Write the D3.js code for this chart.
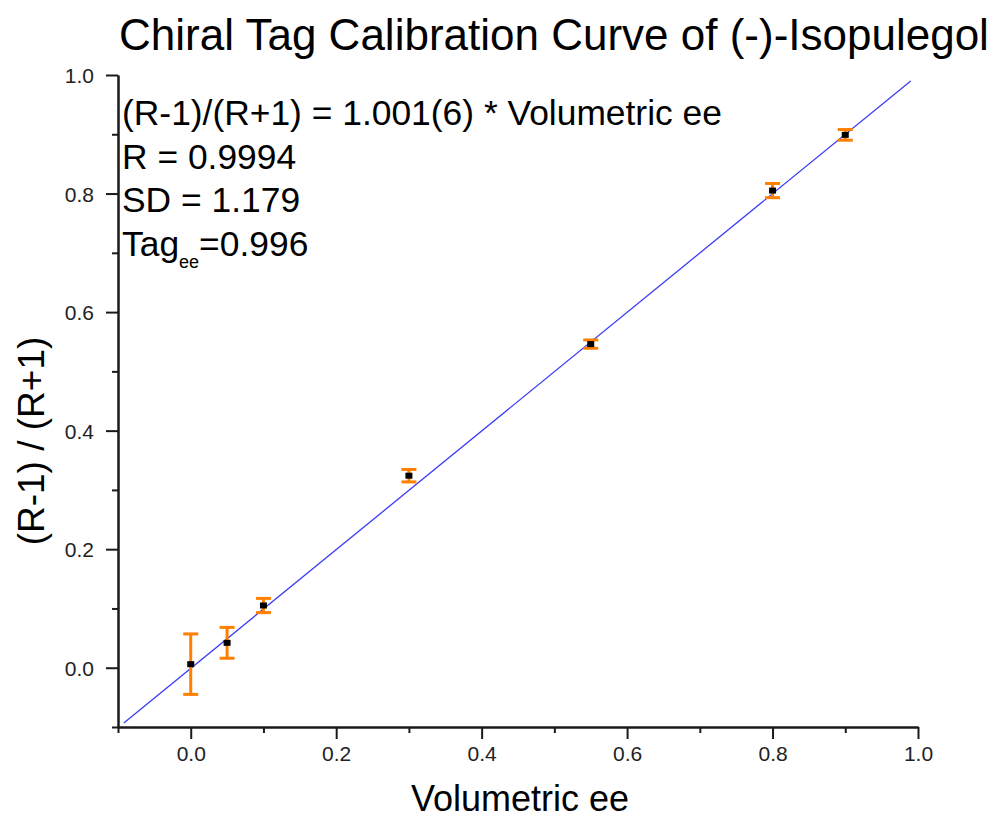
<!DOCTYPE html>
<html>
<head>
<meta charset="utf-8">
<script src="https://cdn.jsdelivr.net/npm/d3@7"></script>
<style>
  html, body { margin: 0; padding: 0; background: #fff; }
  svg { display: block; }
  text { font-family: "Liberation Sans", Arial, sans-serif; }
</style>
</head>
<body>
<svg id="chart" width="995" height="821"></svg>
<script>
// ---- data ----
const volumetricEE = [0.0, 0.05, 0.1, 0.3, 0.55, 0.8, 0.9];
const ratioValues  = [0.006, 0.042, 0.105, 0.324, 0.546, 0.805, 0.899];
const errorValues  = [0.051, 0.026, 0.012, 0.0105, 0.007, 0.012, 0.009];
const fitSlope = 1.001;
const fitIntercept = -0.001;
const fitRange = [-0.092, 0.99];
const xMajorTicks = [0.0, 0.2, 0.4, 0.6, 0.8, 1.0];
const xMinorTicks = [-0.1, 0.1, 0.3, 0.5, 0.7, 0.9];
const yMajorTicks = [0.0, 0.2, 0.4, 0.6, 0.8, 1.0];
const yMinorTicks = [-0.1, 0.1, 0.3, 0.5, 0.7, 0.9];
const titleText = "Chiral Tag Calibration Curve of (-)-Isopulegol";
const xTitle = "Volumetric ee";
const yTitle = "(R-1) / (R+1)";
const annotationLines = ["(R-1)/(R+1) = 1.001(6) * Volumetric ee", "R = 0.9994", "SD = 1.179"];

// ---- layout ----
const svg = d3.select("#chart");
const x = d3.scaleLinear().domain([-0.1, 1.0]).range([118, 918]);
const y = d3.scaleLinear().domain([-0.1, 1.0]).range([727, 75]);
const fmt = d3.format(".1f");
const axisColor = "#1a1a1a";

// minor ticks (no labels)
const xMinor = svg.append("g").attr("transform", `translate(0,${y(-0.1)})`)
  .call(d3.axisBottom(x).tickValues(xMinorTicks).tickSize(6).tickSizeOuter(0).tickFormat(""));
const yMinor = svg.append("g").attr("transform", `translate(${x(-0.1)},0)`)
  .call(d3.axisLeft(y).tickValues(yMinorTicks).tickSize(6).tickSizeOuter(0).tickFormat(""));

const xAxis = svg.append("g").attr("transform", `translate(0,${y(-0.1)})`)
  .call(d3.axisBottom(x).tickValues(xMajorTicks).tickSize(12).tickSizeOuter(0).tickPadding(7).tickFormat(fmt));
const yAxis = svg.append("g").attr("transform", `translate(${x(-0.1)},0)`)
  .call(d3.axisLeft(y).tickValues(yMajorTicks).tickSize(12).tickSizeOuter(0).tickPadding(12).tickFormat(fmt));

[xMinor, yMinor, xAxis, yAxis].forEach(g => {
  g.selectAll("path.domain").attr("stroke", axisColor).attr("stroke-width", 2);
  g.selectAll(".tick line").attr("stroke", axisColor).attr("stroke-width", 2);
  g.selectAll(".tick text").attr("fill", "#222").attr("font-size", 21)
    .attr("font-family", '"Liberation Sans", Arial, sans-serif');
});
yAxis.selectAll(".tick text").attr("dy", "0.36em");

// fit line
svg.append("line")
  .attr("x1", x(fitRange[0])).attr("y1", y(fitSlope * fitRange[0] + fitIntercept))
  .attr("x2", x(fitRange[1])).attr("y2", y(fitSlope * fitRange[1] + fitIntercept))
  .attr("stroke", "#3b3bf5").attr("stroke-width", 1.3);

// error bars
const pts = volumetricEE.map((v, i) => ({x: v, y: ratioValues[i], e: errorValues[i]}));
const eb = svg.append("g").attr("stroke", "#ff8000").attr("stroke-width", 3).attr("fill", "none");
const capW = 7.5;
pts.forEach(p => {
  const cx = x(p.x), top = y(p.y + p.e), bot = y(p.y - p.e);
  eb.append("line").attr("x1", cx).attr("x2", cx).attr("y1", top).attr("y2", bot);
  eb.append("line").attr("x1", cx - capW).attr("x2", cx + capW).attr("y1", top).attr("y2", top);
  eb.append("line").attr("x1", cx - capW).attr("x2", cx + capW).attr("y1", bot).attr("y2", bot);
});

// markers
svg.append("g").selectAll("rect").data(pts).join("rect")
  .attr("x", d => x(d.x) - 3.5).attr("y", d => y(d.y) - 3)
  .attr("width", 7).attr("height", 6).attr("fill", "#000");

// title
svg.append("text").attr("x", 554).attr("y", 50).attr("text-anchor", "middle")
  .attr("font-size", 44).attr("fill", "#000").text(titleText);

// axis titles
svg.append("text").attr("x", 520).attr("y", 811).attr("text-anchor", "middle")
  .attr("font-size", 36).attr("fill", "#000").text(xTitle);
svg.append("text").attr("transform", "translate(44,441) rotate(-90)").attr("text-anchor", "middle")
  .attr("font-size", 37).attr("fill", "#000").text(yTitle);

// annotation
const ann = svg.append("g").attr("font-size", 35.4).attr("fill", "#000");
annotationLines.forEach((t, i) => {
  ann.append("text").attr("x", 122).attr("y", 125 + i * 43.5).text(t);
});
const tagLine = ann.append("text").attr("x", 122).attr("y", 125 + 3 * 43.5);
tagLine.append("tspan").text("Tag");
tagLine.append("tspan").attr("font-size", 18).attr("dy", 12).text("ee");
tagLine.append("tspan").attr("dy", -12).text("=0.996");
</script>
</body>
</html>
